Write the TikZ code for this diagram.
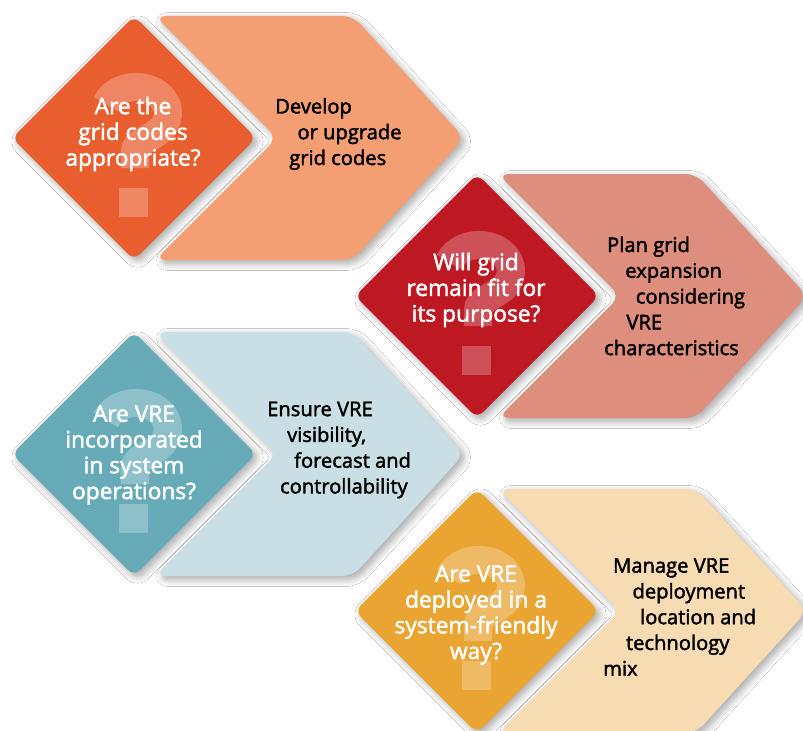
\documentclass[tikz,border=0pt]{standalone}
\usepackage{fontspec}
\setmainfont{Open Sans}[BoldFont={Open Sans},BoldFeatures={FakeBold=2}]
\usetikzlibrary{shadows.blur}
\definecolor{codesDark}{HTML}{E95E2F}
\definecolor{codesLight}{HTML}{F49E73}
\definecolor{fitDark}{HTML}{BE1823}
\definecolor{fitLight}{HTML}{DD8E7C}
\definecolor{opsDark}{HTML}{67ABB8}
\definecolor{opsLight}{HTML}{CADFE5}
\definecolor{mixDark}{HTML}{E9A432}
\definecolor{mixLight}{HTML}{F6DBB3}
\tikzset{
  softshadow/.style={
    blur shadow={shadow xshift=3pt, shadow yshift=-3pt,
      shadow blur radius=6pt, shadow opacity=35, shadow blur steps=10}
  },
  quest/.style={
    fill = #1,
    rounded corners = 7pt,
    softshadow
  },
  answer/.style={
    fill = #1,
    rounded corners = 9pt,
    softshadow
  },
  qmark/.style={
    draw = white,
    draw opacity = .25,
    line width = 24pt
  },
  qdot/.style={
    fill = white,
    fill opacity = .25
  },
  qtext/.style={
    text = white,
    align = center,
    inner sep = 0pt,
    font = \fontsize{19.4}{22}\selectfont\bfseries
  },
  atext/.style={
    text = black,
    align = left,
    anchor = west,
    inner sep = 0pt,
    font = \fontsize{17.2}{22}\selectfont\bfseries
  }
}

\begin{document}
\begin{tikzpicture}[x=0.03cm, y=-0.03cm]
    \clip (0,0) rectangle (803,731);
    \fill[white] (0,0) rectangle (803,731);
    % four question / answer pairs
    \foreach \cx/\cy/\dk/\lt in {134/138/codesDark/codesLight, 477/296/fitDark/fitLight,
                                 134/454/opsDark/opsLight, 477/611/mixDark/mixLight}{
      \begin{scope}[shift={(\cx,\cy)}]
        \fill[answer=\lt] (21,-122) -- (219,-122) -- (330,0) -- (219,122) -- (21,122) -- (143,0) -- cycle;
        \fill[quest=\dk] (-122,0) -- (0,-122) -- (122,0) -- (0,122) -- cycle;
        \draw[qmark] (-28.1,-33.9) arc[start angle=200, end angle=400, x radius=32, y radius=26]
            .. controls (15,2) and (1,4) .. (1,14) -- (1,30);
        \fill[qdot] (-15,50) rectangle (14,79);
      \end{scope}
    }
    % questions
    \node[qtext] (q1) at (133,134) {Are the\\grid codes\\appropriate?};
    \node[qtext] (q2) at (476,290) {Will grid\\remain fit for\\its purpose?};
    \node[qtext] (q3) at (134,455) {Are VRE\\incorporated\\in system\\operations?};
    \node[qtext] (q4) at (476,615) {Are VRE\\deployed in a\\system-friendly\\way?};
    % answers
    \node[atext] (a1) at (275,134) {Develop\\\hspace*{19pt}or upgrade\\\hspace*{12pt}grid codes};
    \node[atext] (a2) at (604,296) {\hspace*{2.5pt}Plan grid\\\hspace*{18pt}expansion\\\hspace*{27pt}considering\\\hspace*{19pt}VRE\\characteristics};
    \node[atext] (a3) at (267,450) {Ensure VRE\\\hspace*{17pt}visibility,\\\hspace*{23pt}forecast and\\\hspace*{11pt}controllability};
    \node[atext] (a4) at (603,617) {\hspace*{8.5pt}Manage VRE\\\hspace*{25pt}deployment\\\hspace*{31.5pt}location and\\\hspace*{19.5pt}technology\\mix};
\end{tikzpicture}
\end{document}
